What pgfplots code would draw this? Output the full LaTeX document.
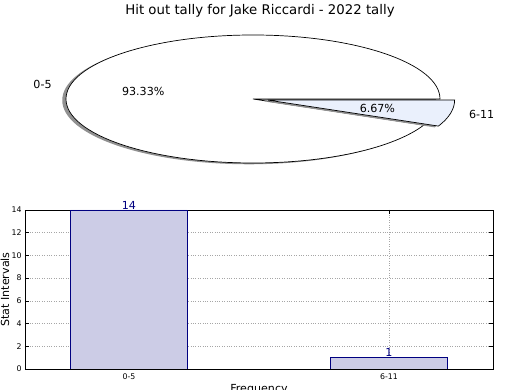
\documentclass[border=0pt]{standalone}
\usepackage{pgfplots}
\pgfplotsset{compat=1.18}
\usepackage{fontspec}
\setmainfont{DejaVu Sans}
\definecolor{sliceblue}{RGB}{234,240,252}
\definecolor{shadowgray}{RGB}{145,145,145}
\definecolor{barfill}{RGB}{204,204,230}
\definecolor{navyc}{RGB}{0,0,128}
\begin{document}
\begin{tikzpicture}
\useasboundingbox (0pt,0pt) rectangle (520pt,390pt);
% data
\def\va{14}\def\vb{1}
\pgfmathsetmacro{\aA}{360*\va/(\va+\vb)}
\pgfmathsetmacro{\mA}{\aA/2}
\pgfmathsetmacro{\mB}{(\aA+360)/2}
\def\ex{0.08}
\pgfmathsetmacro{\exX}{\ex*cos(\mB)}
\pgfmathsetmacro{\exY}{\ex*sin(\mB)}
\node[font=\fontsize{13.3}{16}\selectfont, anchor=base] at (260pt,375.3pt) {Hit out tally for Jake Riccardi - 2022 tally};
% pie
\begin{axis}[at={(253pt,291pt)}, anchor=origin, scale only axis,
  width=374pt, height=128pt, xmin=-1, xmax=1, ymin=-1, ymax=1,
  axis lines=none, ticks=none, clip=false]
\addplot[draw=none, forget plot] coordinates {(0,0)};
\fill[shadowgray] (axis cs:-0.02,-0.02) -- (axis cs:0.98,-0.02)
  arc[start angle=0, end angle=\aA, x radius=187pt, y radius=64pt] -- cycle;
\draw[black, fill=white, line width=0.7pt] (axis cs:0,0) -- (axis cs:1,0)
  arc[start angle=0, end angle=\aA, x radius=187pt, y radius=64pt] -- cycle;
\fill[shadowgray] (axis cs:{\exX-0.02},{\exY-0.02}) -- (axis cs:{\exX-0.02+cos(\aA)},{\exY-0.02+sin(\aA)})
  arc[start angle=\aA, end angle=360, x radius=187pt, y radius=64pt] -- cycle;
\draw[black, fill=sliceblue, line width=0.7pt] (axis cs:{\exX},{\exY}) -- (axis cs:{\exX+cos(\aA)},{\exY+sin(\aA)})
  arc[start angle=\aA, end angle=360, x radius=187pt, y radius=64pt] -- cycle;
\node[font=\fontsize{11.1}{13}\selectfont, anchor=east, inner sep=0pt] at (axis cs:{1.1*cos(\mA)},{1.1*sin(\mA)}) {0-5};
\node[font=\fontsize{11.1}{13}\selectfont, inner sep=0pt] at (axis cs:{0.6*cos(\mA)},{0.6*sin(\mA)}) {93.33\%};
\node[font=\fontsize{11.1}{13}\selectfont, anchor=west, inner sep=0pt] at (axis cs:{\exX+1.1*cos(\mB)},{\exY+1.1*sin(\mB)}) {6-11};
\node[font=\fontsize{11.1}{13}\selectfont, inner sep=0pt] at (axis cs:{\exX+0.6*cos(\mB)},{\exY+0.6*sin(\mB)}) {6.67\%};
\end{axis}
% bars
\begin{axis}[at={(25pt,21pt)}, anchor=south west, scale only axis,
  width=468pt, height=159pt,
  xmin=-0.4, xmax=1.4, ymin=0, ymax=14,
  xtick={0,1}, xticklabels={0-5,6-11},
  ytick={0,2,4,6,8,10,12,14},
  ybar, bar width=0.45,
  grid=major, grid style={dotted, gray!70, line width=0.6pt},
  tick align=inside, major tick length=4pt,
  tick style={black, line width=0.5pt},
  axis line style={black, line width=0.8pt},
  tick label style={font=\fontsize{7.8}{9}\selectfont},
  /pgf/number format/assume math mode=true,
  xticklabel style={yshift=-1pt},
  ylabel={Stat Intervals}, xlabel={Frequency},
  label style={font=\fontsize{11.1}{13}\selectfont},
  ylabel style={at={(axis description cs:-0.043,0.5)}, anchor=center},
  xlabel style={at={(axis description cs:0.5,-0.145)}, anchor=base},
  nodes near coords,
  every node near coord/.append style={font=\fontsize{11.1}{13}\selectfont, text=navyc, anchor=south, inner sep=0.5pt},
]
\addplot[fill=barfill, draw=navyc, line width=0.7pt] coordinates {(0,14) (1,1)};
\end{axis}
\end{tikzpicture}
\end{document}
